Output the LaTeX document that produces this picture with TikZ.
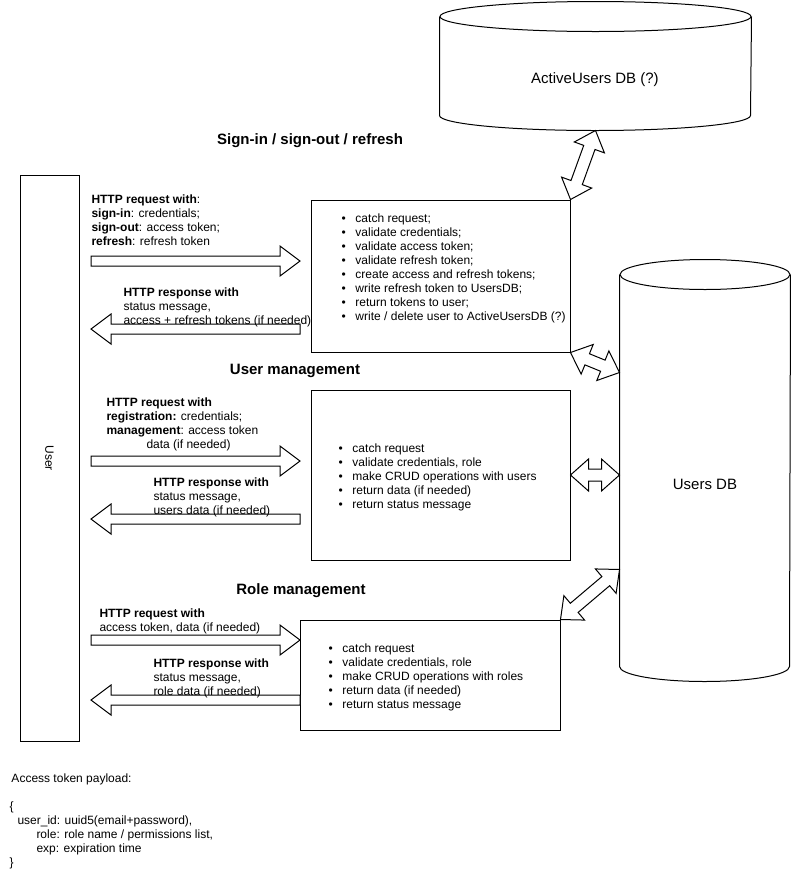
\documentclass[tikz,border=0pt]{standalone}
\usepackage{fontspec}
\setmainfont{Liberation Sans}
\usetikzlibrary{calc}

\newcommand{\bul}{\makebox[14pt][l]{\textbullet}}
\newcommand{\flatarrow}[2]{%
  \coordinate (fa-h) at ($(#2)!20pt!(#1)$);
  \draw[blockarrow] ($(#1)!5pt!90:(#2)$) -- ($(fa-h)!5pt!90:(#2)$) -- ($(fa-h)!15pt!90:(#2)$)
    -- (#2) -- ($(fa-h)!15pt!-90:(#2)$) -- ($(fa-h)!5pt!-90:(#2)$) -- ($(#1)!5pt!-90:(#2)$) -- cycle;}
\newcommand{\flatdouble}[2]{%
  \coordinate (fd-a) at ($(#1)!18pt!(#2)$);
  \coordinate (fd-b) at ($(#2)!18pt!(#1)$);
  \draw[blockarrow] (#1) -- ($(fd-a)!16pt!90:(#2)$) -- ($(fd-a)!6pt!90:(#2)$) -- ($(fd-b)!6pt!90:(#2)$)
    -- ($(fd-b)!16pt!90:(#2)$) -- (#2) -- ($(fd-b)!16pt!-90:(#2)$) -- ($(fd-b)!6pt!-90:(#2)$)
    -- ($(fd-a)!6pt!-90:(#2)$) -- ($(fd-a)!16pt!-90:(#2)$) -- cycle;}
\newcommand{\dbcyl}[2]{%
  \draw ([yshift=-15pt]#1.north west) -- ([yshift=15pt]#1.south west)
    arc[start angle=180,end angle=360,x radius=#2,y radius=15pt] -- ([yshift=-15pt]#1.north east);
  \draw ([yshift=-15pt]#1.north) ellipse[x radius=#2,y radius=15pt];}

\begin{document}
\begin{tikzpicture}[x=1pt,y=-1pt,line width=1pt,font=\fontsize{12}{14}\selectfont,
  box/.style={rectangle,draw,inner sep=0pt},
  db/.style={rectangle,inner sep=0pt},
  txt/.style={anchor=north west,inner sep=0pt,align=left},
  head/.style={inner sep=0pt,font=\fontsize{15}{18}\selectfont\bfseries},
  dblabel/.style={inner sep=0pt,font=\fontsize{15}{18}\selectfont},
  blockarrow/.style={draw,fill=white,line join=miter}]
\useasboundingbox (0,0) rectangle (791,871);

\node[box,minimum width=59pt,minimum height=566pt] (user) at (49.5,458) {\rotatebox{-90}{User}};
\node[box,minimum width=259pt,minimum height=152pt] (signin) at (440.5,276) {};
\node[box,minimum width=259pt,minimum height=170pt] (usermgmt) at (440.5,475) {};
\node[box,minimum width=260pt,minimum height=110pt] (rolemgmt) at (430,675) {};

\node[db,minimum width=311pt,minimum height=128pt] (activedb) at (595.5,66) {};
\node[db,minimum width=170pt,minimum height=421pt] (usersdb) at (705,470.5) {};
\dbcyl{activedb}{155.5pt}
\dbcyl{usersdb}{85pt}
\node[dblabel] (activetext) at (595,80) {ActiveUsers DB (?)};
\node[dblabel] (userstext) at (705,484) {Users DB};

\node[head] (signtitle) at (310,141) {Sign-in / sign-out / refresh};
\node[head] (usertitle) at (295,371) {User management};
\node[head] (roletitle) at (301,591) {Role management};

\coordinate (sreq1) at (91,261);  \coordinate (sreq2) at (300,261);
\coordinate (sres1) at (300,329); \coordinate (sres2) at (91,329);
\coordinate (ureq1) at (91,461);  \coordinate (ureq2) at (300,461);
\coordinate (ures1) at (300,519); \coordinate (ures2) at (91,519);
\coordinate (rreq1) at (91,640);  \coordinate (rreq2) at (300,640);
\coordinate (rres1) at (300,700); \coordinate (rres2) at (91,700);
\flatarrow{sreq1}{sreq2}
\flatarrow{sres1}{sres2}
\flatarrow{ureq1}{ureq2}
\flatarrow{ures1}{ures2}
\flatarrow{rreq1}{rreq2}
\flatarrow{rres1}{rres2}

\coordinate (udbtop) at ([yshift=-113pt]usersdb.north west);
\coordinate (udbmid) at (usermgmt.east -| usersdb.west);
\coordinate (udbrole) at ([yshift=-310pt]usersdb.north west);
\flatdouble{activedb.south}{signin.north east}
\flatdouble{signin.south east}{udbtop}
\flatdouble{usermgmt.east}{udbmid}
\flatdouble{rolemgmt.north east}{udbrole}

\node[txt] (signreq) at (91,194.5) {\textbf{HTTP request with}:\\ \textbf{sign-in}: credentials;\\
  \textbf{sign-out}: access token;\\ \textbf{refresh}: refresh token};
\node[txt] (signres) at (123,287) {\textbf{HTTP response with}\\ status message,\\
  access + refresh tokens (if needed)};
\node[txt] (userreq) at (106,397.5) {\textbf{HTTP request with}\\ \textbf{registration:} credentials;\\
  \textbf{management}: access token\\ \hspace*{40pt}data (if needed)};
\node[txt] (userres) at (153,477) {\textbf{HTTP response with}\\ status message,\\ users data (if needed)};
\node[txt] (rolereq) at (99,608.5) {\textbf{HTTP request with}\\ access token, data (if needed)};
\node[txt] (roleres) at (153,658.5) {\textbf{HTTP response with}\\ status message,\\ role data (if needed)};

\node[txt] (signlist) at (341,213.5) {\bul catch request;\\ \bul validate credentials;\\
  \bul validate access token;\\ \bul validate refresh token;\\ \bul create access and refresh tokens;\\
  \bul write refresh token to UsersDB;\\ \bul return tokens to user;\\
  \bul write / delete user to ActiveUsersDB (?)};
\node[txt] (userlist) at (338,443.5) {\bul catch request\\ \bul validate credentials, role\\
  \bul make CRUD operations with users\\ \bul return data (if needed)\\ \bul return status message};
\node[txt] (rolelist) at (328,643.5) {\bul catch request\\ \bul validate credentials, role\\
  \bul make CRUD operations with roles\\ \bul return data (if needed)\\ \bul return status message};

\node[txt] (payloadtitle) at (11,773.5) {Access token payload:};
\node[txt] (payload) at (9,801.5) {\{\\ \hspace*{8pt}user\_id: uuid5(email+password),\\
  \hspace*{27pt}role: role name / permissions list,\\ \hspace*{27pt}exp: expiration time\\ \}};
\end{tikzpicture}
\end{document}
